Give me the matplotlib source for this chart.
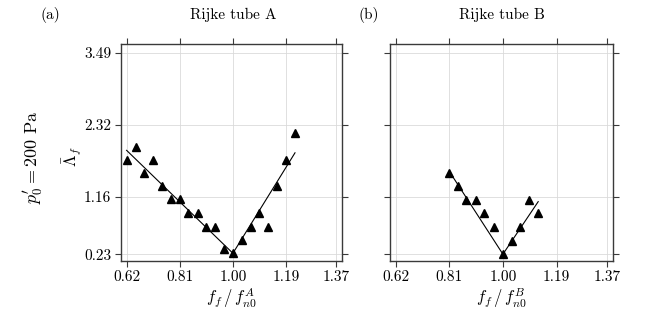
import matplotlib.pyplot as plt

plt.rcParams['font.family'] = 'serif'
plt.rcParams['font.serif'] = ['cmr10']
plt.rcParams['mathtext.fontset'] = 'cm'
plt.rcParams['axes.formatter.use_mathtext'] = True

# Rijke tube A
freq_a = [0.62, 0.652, 0.684, 0.715, 0.746, 0.778, 0.81, 0.841, 0.874, 0.905,
          0.937, 0.969, 1.00, 1.031, 1.063, 1.094, 1.126, 1.157, 1.19, 1.222]
amp_a = [1.75, 1.97, 1.54, 1.75, 1.33, 1.115, 1.115, 0.89, 0.89, 0.67,
         0.67, 0.32, 0.245, 0.46, 0.67, 0.89, 0.67, 1.33, 1.75, 2.19]
fit_a_x = [0.62, 1.00, 1.222]
fit_a_y = [1.91, 0.245, 1.87]

# Rijke tube B
freq_b = [0.81, 0.84, 0.871, 0.904, 0.934, 0.967, 1.00, 1.031, 1.062, 1.093, 1.125]
amp_b = [1.55, 1.33, 1.11, 1.11, 0.89, 0.67, 0.23, 0.45, 0.67, 1.11, 0.89]
fit_b_x = [0.81, 1.00, 1.125]
fit_b_y = [1.57, 0.23, 1.08]

xticks = [0.62, 0.81, 1.00, 1.19, 1.37]
yticks = [0.23, 1.16, 2.32, 3.49]

fig = plt.figure(figsize=(6.49, 3.2), dpi=100)
ax1 = fig.add_axes([121 / 649, 1 - 261 / 320, 221 / 649, 217 / 320])
ax2 = fig.add_axes([390 / 649, 1 - 261 / 320, 223 / 649, 217 / 320])

panels = [
    (ax1, freq_a, amp_a, fit_a_x, fit_a_y, r'$f_f\,/\,f_{n0}^{A}$'),
    (ax2, freq_b, amp_b, fit_b_x, fit_b_y, r'$f_f\,/\,f_{n0}^{B}$'),
]

for ax, fx, fy, lx, ly, xlab in panels:
    ax.plot(lx, ly, color='black', lw=0.8, zorder=2)
    ax.plot(fx, fy, '^', color='black', markersize=5.5, zorder=3)
    ax.set_xlim(0.60, 1.39)
    ax.set_ylim(0.12, 3.63)
    ax.set_xticks(xticks)
    ax.set_xticklabels(['%.2f' % v for v in xticks])
    ax.set_yticks(yticks)
    ax.set_yticklabels(['%.2f' % v for v in yticks])
    ax.grid(True, color='#dadada', lw=0.6)
    ax.set_axisbelow(True)
    for s in ax.spines.values():
        s.set_color('#3a3a3a')
        s.set_linewidth(1.0)
    ax.tick_params(direction='out', top=True, right=True, length=4, width=0.8,
                   color='#3a3a3a', labelsize=11, pad=3)
    ax.set_xlabel(xlab, fontsize=12, labelpad=1)

ax2.tick_params(labelleft=False)

fig.text(50 / 649, 1 - 15 / 320, '(a)', fontsize=11, ha='center', va='center')
fig.text(233 / 649, 1 - 15 / 320, 'Rijke tube A', fontsize=11, ha='center', va='center')
fig.text(369 / 649, 1 - 15 / 320, '(b)', fontsize=11, ha='center', va='center')
fig.text(502 / 649, 1 - 15 / 320, 'Rijke tube B', fontsize=11, ha='center', va='center')
fig.text(72 / 649, 1 - 157 / 320, r'$\bar{\Lambda}_f$', fontsize=12, rotation=90,
         ha='center', va='center')
fig.text(33 / 649, 1 - 157 / 320, r"$p_0' = 200$ Pa", fontsize=13, rotation=90,
         ha='center', va='center')

plt.savefig('out.png')
